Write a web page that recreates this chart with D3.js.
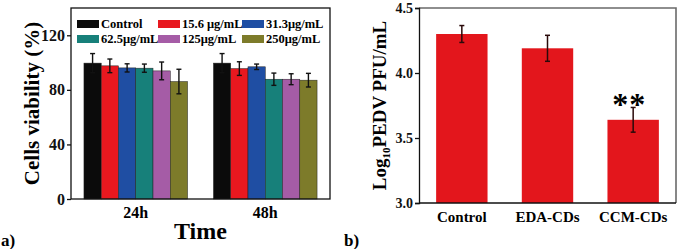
<!DOCTYPE html>
<html>
<head>
<meta charset="utf-8">
<script src="https://cdn.jsdelivr.net/npm/d3@7"></script>
<style>
  body { margin: 0; background: #fff; }
  svg text { font-family: "Liberation Serif", "DejaVu Serif", serif !important; font-weight: bold; }
</style>
</head>
<body>
<svg id="chart" width="681" height="249"></svg>
<script>
// panel a data
const timePoints = ["24h", "48h"];
const concentrations = ["Control", "15.6 μg/mL", "31.3μg/mL", "62.5μg/mL", "125μg/mL", "250μg/mL"];
const viability24h = [99.6, 97.6, 96.1, 95.9, 93.9, 86.1];
const viability48h = [99.6, 95.6, 96.9, 87.8, 87.8, 87.1];
const error24h = [7, 5, 3, 3, 6.5, 9];
const error48h = [7, 5, 2, 4.5, 4, 5];
const viabilityTicks = [0, 40, 80, 120];

// panel b data
const treatments = ["Control", "EDA-CDs", "CCM-CDs"];
const logTiter = [4.30, 4.19, 3.64];
const logTiterErr = [0.065, 0.1, 0.095];
const titerTicks = [3.0, 3.5, 4.0, 4.5];

const barColors = ["#0b0b0b", "#e8181f", "#1f4ea3", "#17807a", "#a55ca6", "#7d7b2a"];

const svg = d3.select("#chart");

// ---------- panel a ----------
const a = { left: 71, right: 330, top: 8, bottom: 199 };

const xa = d3.scaleBand().domain(timePoints).range([a.left, a.right])
  .paddingInner(0.2).paddingOuter(0.1);
const xaInner = d3.scaleBand().domain(concentrations).range([0, xa.bandwidth()]);
const ya = d3.scaleLinear().domain([0, 140]).range([a.bottom, a.top]);

const rowsA = [];
timePoints.forEach((t, gi) =>
{
  const vals = gi === 0 ? viability24h : viability48h;
  const errs = gi === 0 ? error24h : error48h;
  concentrations.forEach((c, i) =>
  {
    rowsA.push({ time: t, conc: c, value: vals[i], err: errs[i], color: barColors[i] });
  });
});

const gA = svg.append("g");

gA.selectAll("rect.bar")
  .data(rowsA)
  .enter()
  .append("rect")
  .attr("class", "bar")
  .attr("x", d => xa(d.time) + xaInner(d.conc))
  .attr("y", d => ya(d.value))
  .attr("width", xaInner.bandwidth())
  .attr("height", d => ya(0) - ya(d.value))
  .attr("fill", d => d.color)
  .attr("stroke", "#222")
  .attr("stroke-width", 0.5);

// error bars
const errA = gA.append("g").attr("stroke", "#111").attr("stroke-width", 1.4);
rowsA.forEach(d =>
{
  const cx = xa(d.time) + xaInner(d.conc) + xaInner.bandwidth() / 2;
  errA.append("line").attr("x1", cx).attr("x2", cx)
    .attr("y1", ya(d.value + d.err)).attr("y2", ya(d.value - d.err));
  [d.value + d.err, d.value - d.err].forEach(v =>
  {
    errA.append("line").attr("x1", cx - 2.5).attr("x2", cx + 2.5)
      .attr("y1", ya(v)).attr("y2", ya(v));
  });
});

// frame
gA.append("rect")
  .attr("x", a.left).attr("y", a.top)
  .attr("width", a.right - a.left).attr("height", a.bottom - a.top)
  .attr("fill", "none").attr("stroke", "#111").attr("stroke-width", 1.3);

// y axis
const yAxisA = gA.append("g")
  .attr("transform", `translate(${ a.left },0)`)
  .call(d3.axisLeft(ya).tickValues(viabilityTicks).tickSize(4).tickPadding(2));
yAxisA.attr("font-family", null);
yAxisA.select(".domain").remove();
yAxisA.selectAll("line").attr("stroke", "#111").attr("stroke-width", 1.3);
yAxisA.selectAll("text").attr("fill", "#111").style("font-size", "16px");

// x labels
gA.selectAll("text.xlab")
  .data(timePoints)
  .enter()
  .append("text")
  .attr("class", "xlab")
  .attr("x", d => xa(d) + xa.bandwidth() / 2)
  .attr("y", 218)
  .attr("text-anchor", "middle")
  .style("font-size", "16px")
  .text(d => d);

gA.append("text")
  .attr("x", (a.left + a.right) / 2)
  .attr("y", 239)
  .attr("text-anchor", "middle")
  .style("font-size", "24px")
  .text("Time");

gA.append("text")
  .attr("transform", `translate(39,${ (a.top + a.bottom) / 2 }) rotate(-90)`)
  .attr("text-anchor", "middle")
  .style("font-size", "21px")
  .text("Cells viability (%)");

gA.append("text")
  .attr("x", 1).attr("y", 246)
  .style("font-size", "17px")
  .text("a)");

// legend
const legendCols = [77, 158, 242];
const legendRows = [24, 39];
const legend = gA.append("g");
concentrations.forEach((c, i) =>
{
  const lx = legendCols[i % 3];
  const ly = legendRows[Math.floor(i / 3)];
  legend.append("rect")
    .attr("x", lx).attr("y", ly - 4)
    .attr("width", 22).attr("height", 8)
    .attr("fill", barColors[i]);
  legend.append("text")
    .attr("x", lx + 24).attr("y", ly)
    .attr("dy", "0.35em")
    .style("font-size", "12.5px")
    .text(c);
});

// ---------- panel b ----------
const b = { left: 419, right: 676, top: 8, bottom: 203 };

const xb = d3.scaleBand().domain(treatments).range([b.left, b.right])
  .paddingInner(0.4).paddingOuter(0.2);
const yb = d3.scaleLinear().domain([3.0, 4.5]).range([b.bottom, b.top]);

const gB = svg.append("g");

// grey frame top / right
gB.append("path")
  .attr("d", `M${ b.left },${ b.top }H${ b.right }V${ b.bottom }`)
  .attr("fill", "none").attr("stroke", "#6a6a6a").attr("stroke-width", 1.6);

gB.selectAll("rect.bar")
  .data(treatments)
  .enter()
  .append("rect")
  .attr("class", "bar")
  .attr("x", d => xb(d))
  .attr("y", (d, i) => yb(logTiter[i]))
  .attr("width", xb.bandwidth())
  .attr("height", (d, i) => yb(3.0) - yb(logTiter[i]))
  .attr("fill", "#e3161c");

const errB = gB.append("g").attr("stroke", "#2a0a0a").attr("stroke-width", 1.5);
treatments.forEach((t, i) =>
{
  const cx = xb(t) + xb.bandwidth() / 2;
  const hi = logTiter[i] + logTiterErr[i];
  const lo = logTiter[i] - logTiterErr[i];
  errB.append("line").attr("x1", cx).attr("x2", cx).attr("y1", yb(hi)).attr("y2", yb(lo));
  [hi, lo].forEach(v =>
  {
    errB.append("line").attr("x1", cx - 2.5).attr("x2", cx + 2.5).attr("y1", yb(v)).attr("y2", yb(v));
  });
});

// significance stars
gB.append("text")
  .attr("x", xb("CCM-CDs") + xb.bandwidth() / 2 - 4)
  .attr("y", yb(3.64 + 0.095) + 8)
  .attr("text-anchor", "middle")
  .style("font-size", "32px")
  .style("letter-spacing", "1px")
  .text("**");

const yAxisB = gB.append("g")
  .attr("transform", `translate(${ b.left },0)`)
  .call(d3.axisLeft(yb).tickValues(titerTicks).tickFormat(d3.format(".1f")).tickSize(4).tickPadding(2));
yAxisB.attr("font-family", null);
yAxisB.select(".domain").attr("stroke", "#111").attr("stroke-width", 1.3);
yAxisB.selectAll("line").attr("stroke", "#111").attr("stroke-width", 1.3);
yAxisB.selectAll("text").attr("fill", "#111").style("font-size", "14px");

gB.append("line")
  .attr("x1", b.left).attr("x2", b.right)
  .attr("y1", b.bottom).attr("y2", b.bottom)
  .attr("stroke", "#111").attr("stroke-width", 1.3);

gB.selectAll("text.xlab")
  .data(treatments)
  .enter()
  .append("text")
  .attr("class", "xlab")
  .attr("x", d => xb(d) + xb.bandwidth() / 2)
  .attr("y", 222)
  .attr("text-anchor", "middle")
  .style("font-size", "15px")
  .text(d => d);

const titleB = gB.append("text")
  .attr("transform", `translate(386,${ (b.top + b.bottom) / 2 }) rotate(-90)`)
  .attr("text-anchor", "middle")
  .style("font-size", "19px");
titleB.append("tspan").text("Log");
titleB.append("tspan").attr("dy", 4).style("font-size", "11px").text("10");
titleB.append("tspan").attr("dy", -4).text("PEDV PFU/mL");

gB.append("text")
  .attr("x", 344).attr("y", 246)
  .style("font-size", "17px")
  .text("b)");
</script>
</body>
</html>
